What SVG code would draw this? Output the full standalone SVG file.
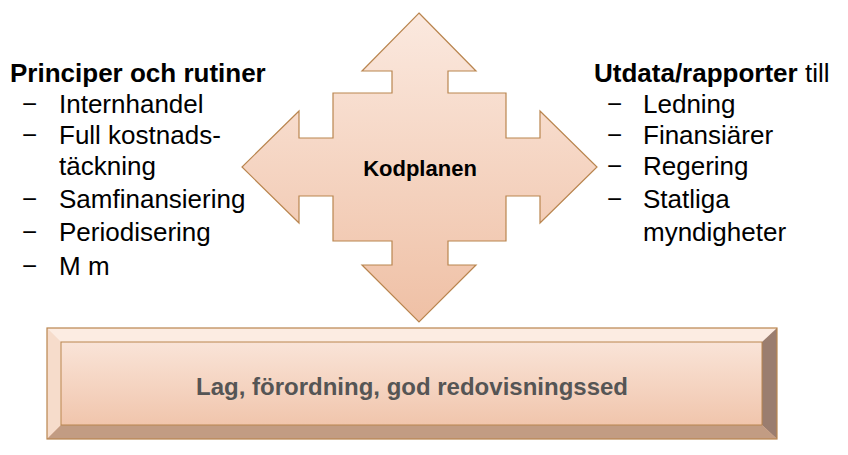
<svg xmlns="http://www.w3.org/2000/svg" width="848" height="455" viewBox="0 0 848 455">
<defs>
<linearGradient id="g" x1="0" y1="0" x2="0" y2="1"><stop offset="0" stop-color="#fbe9df"/><stop offset="1" stop-color="#efc0a5"/></linearGradient>
<style>
.t{font-family:"Liberation Sans",Arial,sans-serif;font-size:26px;fill:#000}
.b{font-weight:bold}
</style>
</defs>
<rect width="848" height="455" fill="#fff"/>
<g id="kodplanen">
<path d="M419,13 L476,71 L448,71 L448,93 L506,93 L506,138 L540,138 L540,111 L597,167 L540,223 L540,196 L506,196 L506,241 L448,241 L448,265 L476,265 L419,322 L362,265 L392,265 L392,241 L333,241 L333,196 L299,196 L299,223 L242,167 L299,111 L299,138 L333,138 L333,93 L392,93 L392,71 L362,71 Z" fill="url(#g)" stroke="#b9854f" stroke-width="1.2"/>
<text x="420" y="176" class="t b" text-anchor="middle" style="font-size:22px">Kodplanen</text>
</g>
<g id="base">
<rect x="47" y="328" width="730" height="111" fill="url(#g)"/>
<polygon points="47,328 777,328 762,342 61,342" fill="#fcece2"/>
<polygon points="47,328 61,342 61,425 47,439" fill="#f6dccb"/>
<polygon points="777,328 777,439 762,425 762,342" fill="#9a7d6f"/>
<polygon points="47,439 61,425 762,425 777,439" fill="#c29c83"/>
<rect x="47" y="328" width="730" height="111" fill="none" stroke="#b9854f" stroke-width="1.2"/>
<rect x="61" y="342" width="701" height="83" fill="none" stroke="#b9854f" stroke-width="1"/>
<text x="412" y="395" class="t b" text-anchor="middle" style="font-size:24px;fill:#555">Lag, förordning, god redovisningssed</text>
</g>
<g id="left" class="t">
<text x="10" y="82" class="b">Principer och rutiner</text>
<text x="22" y="113">−</text><text x="59" y="113">Internhandel</text>
<text x="22" y="144">−</text><text x="59" y="144">Full kostnads-</text>
<text x="59" y="175">täckning</text>
<text x="22" y="208">−</text><text x="59" y="208">Samfinansiering</text>
<text x="22" y="241">−</text><text x="59" y="241">Periodisering</text>
<text x="22" y="275">−</text><text x="59" y="275">M m</text>
</g>
<g id="right" class="t">
<text x="594" y="82"><tspan class="b">Utdata/rapporter</tspan> till</text>
<text x="607" y="113">−</text><text x="643" y="113">Ledning</text>
<text x="607" y="144">−</text><text x="643" y="144">Finansiärer</text>
<text x="607" y="175">−</text><text x="643" y="175">Regering</text>
<text x="607" y="208">−</text><text x="643" y="208">Statliga</text>
<text x="643" y="241">myndigheter</text>
</g>
</svg>
